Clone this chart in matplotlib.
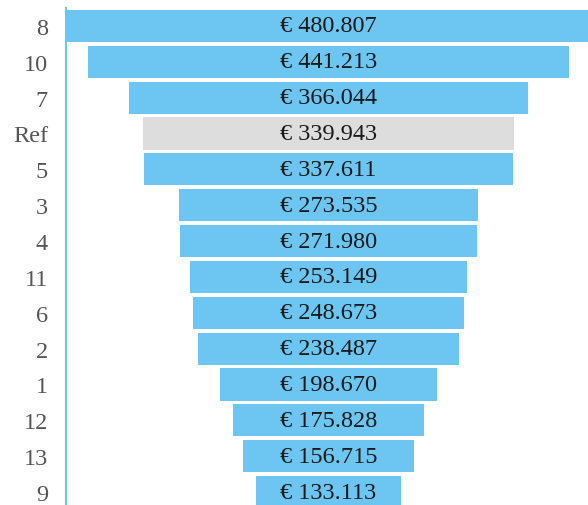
import matplotlib
matplotlib.use("Agg")
import matplotlib.pyplot as plt

categories = ["8", "10", "7", "Ref", "5", "3", "4", "11", "6", "2", "1", "12", "13", "9"]
values = [480807, 441213, 366044, 339943, 337611, 273535, 271980, 253149,
          248673, 238487, 198670, 175828, 156715, 133113]

BLUE = "#6DC5F1"
GREY = "#DDDDDD"

plt.rcParams["font.family"] = ["Liberation Serif", "DejaVu Serif"]

fig = plt.figure(figsize=(5.88, 5.06), dpi=100)
top = 1 - 9 / 506
bottom = 1 - 511 / 506
ax = fig.add_axes([66 / 588, bottom, (591 - 66) / 588, top - bottom])

vmax = max(values)
n = len(values)
ys = list(range(n))
colors = [GREY if c == "Ref" else BLUE for c in categories]
lefts = [-v / 2 for v in values]
ax.barh(ys, values, left=lefts, height=0.9, color=colors, edgecolor="none")

for y, v in zip(ys, values):
    label = "€ " + f"{v:,}".replace(",", ".")
    ax.text(0, y, label, ha="center", va="center", fontsize=17.5, color="#1a1a1a")

ax.set_xlim(-vmax / 2, vmax / 2)
ax.set_ylim(n - 0.5, -0.5)
ax.set_yticks(ys)
ax.set_yticklabels(categories, fontsize=17.5, color="#555555")
ax.tick_params(axis="y", length=0, pad=13)
ax.set_xticks([])
for s in ["top", "right", "bottom"]:
    ax.spines[s].set_visible(False)
ax.spines["left"].set_color(BLUE)
ax.spines["left"].set_linewidth(1.5)

fig.savefig("out.png", dpi=100)
